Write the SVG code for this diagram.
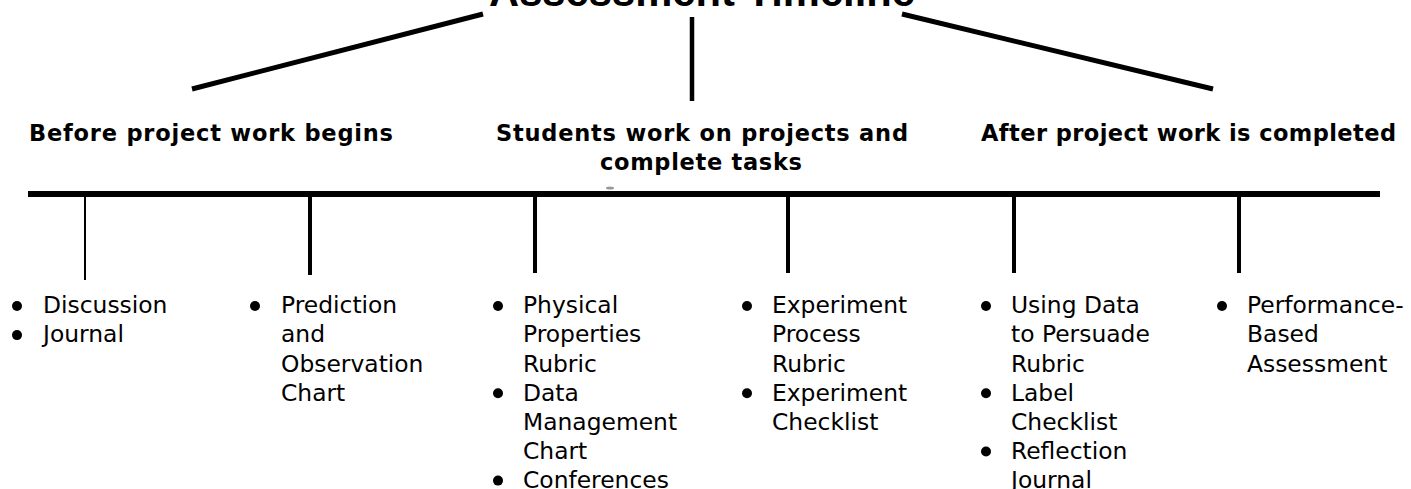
<svg xmlns="http://www.w3.org/2000/svg" width="1411" height="489" viewBox="0 0 1411 489">
<style>
.title{font-family:"Liberation Sans",Arial,sans-serif;font-weight:bold;font-size:42px;fill:#000}
.hdr{font-family:"DejaVu Sans",Verdana,sans-serif;font-weight:bold;font-size:22.5px;fill:#000}
.item{font-family:"DejaVu Sans",Verdana,sans-serif;font-size:23.4px;fill:#000}
.ln{stroke:#000;stroke-linecap:butt;fill:none}
.dot{fill:#000}
</style>
<rect width="1411" height="489" fill="#fff"/>
<g id="title">
<text class="title" x="702" y="6" text-anchor="middle" textLength="426" lengthAdjust="spacingAndGlyphs">Assessment Timeline</text>
</g>
<g id="connectors">
<line class="ln" x1="192" y1="89" x2="483" y2="14" stroke-width="5"/>
<line class="ln" x1="692" y1="17" x2="692" y2="101" stroke-width="4.5"/>
<line class="ln" x1="902" y1="14" x2="1213" y2="89" stroke-width="5"/>
<line class="ln" x1="28" y1="194" x2="1380" y2="194" stroke-width="6"/>
<ellipse cx="610" cy="188" rx="4" ry="1.5" fill="#999"/>
<line class="ln" x1="85" y1="194" x2="85" y2="280" stroke-width="2" stroke="#444"/>
<line class="ln" x1="310" y1="194" x2="310" y2="275" stroke-width="4"/>
<line class="ln" x1="535" y1="194" x2="535" y2="273" stroke-width="4"/>
<line class="ln" x1="788" y1="194" x2="788" y2="273" stroke-width="4"/>
<line class="ln" x1="1014" y1="194" x2="1014" y2="273" stroke-width="4"/>
<line class="ln" x1="1239" y1="194" x2="1239" y2="273" stroke-width="4"/>
</g>
<g id="phase-before">
<text class="hdr" x="29" y="141" textLength="364" lengthAdjust="spacing">Before project work begins</text>
</g>
<g id="phase-during">
<text class="hdr" x="496" y="141" textLength="412" lengthAdjust="spacing">Students work on projects and</text>
<text class="hdr" x="600" y="170" textLength="202" lengthAdjust="spacing">complete tasks</text>
</g>
<g id="phase-after">
<text class="hdr" x="981" y="141" textLength="415" lengthAdjust="spacing">After project work is completed</text>
</g>
<g id="list-1">
<circle class="dot" cx="17" cy="306" r="5"/>
<circle class="dot" cx="17" cy="335.1" r="5"/>
<text class="item" x="43" y="313.3">Discussion</text>
<text class="item" x="43" y="342.4">Journal</text>
</g>
<g id="list-2">
<circle class="dot" cx="255" cy="306" r="5"/>
<text class="item" x="281" y="313.3">Prediction</text>
<text class="item" x="281" y="342.4">and</text>
<text class="item" x="281" y="371.5">Observation</text>
<text class="item" x="281" y="400.6">Chart</text>
</g>
<g id="list-3">
<circle class="dot" cx="498" cy="306" r="5"/>
<circle class="dot" cx="498" cy="393.3" r="5"/>
<circle class="dot" cx="498" cy="480.6" r="5"/>
<text class="item" x="523" y="313.3">Physical</text>
<text class="item" x="523" y="342.4">Properties</text>
<text class="item" x="523" y="371.5">Rubric</text>
<text class="item" x="523" y="400.6">Data</text>
<text class="item" x="523" y="429.7">Management</text>
<text class="item" x="523" y="458.8">Chart</text>
<text class="item" x="523" y="487.6">Conferences</text>
</g>
<g id="list-4">
<circle class="dot" cx="747" cy="306" r="5"/>
<circle class="dot" cx="747" cy="393.3" r="5"/>
<text class="item" x="772" y="313.3">Experiment</text>
<text class="item" x="772" y="342.4">Process</text>
<text class="item" x="772" y="371.5">Rubric</text>
<text class="item" x="772" y="400.6">Experiment</text>
<text class="item" x="772" y="429.7">Checklist</text>
</g>
<g id="list-5">
<circle class="dot" cx="986" cy="306" r="5"/>
<circle class="dot" cx="986" cy="393.3" r="5"/>
<circle class="dot" cx="986" cy="451.5" r="5"/>
<text class="item" x="1011" y="313.3">Using Data</text>
<text class="item" x="1011" y="342.4">to Persuade</text>
<text class="item" x="1011" y="371.5">Rubric</text>
<text class="item" x="1011" y="400.6">Label</text>
<text class="item" x="1011" y="429.7">Checklist</text>
<text class="item" x="1011" y="458.8">Reflection</text>
<text class="item" x="1011" y="487.6">Journal</text>
</g>
<g id="list-6">
<circle class="dot" cx="1222" cy="306" r="5"/>
<text class="item" x="1247" y="313.3">Performance-</text>
<text class="item" x="1247" y="342.4">Based</text>
<text class="item" x="1247" y="371.5">Assessment</text>
</g>
</svg>
